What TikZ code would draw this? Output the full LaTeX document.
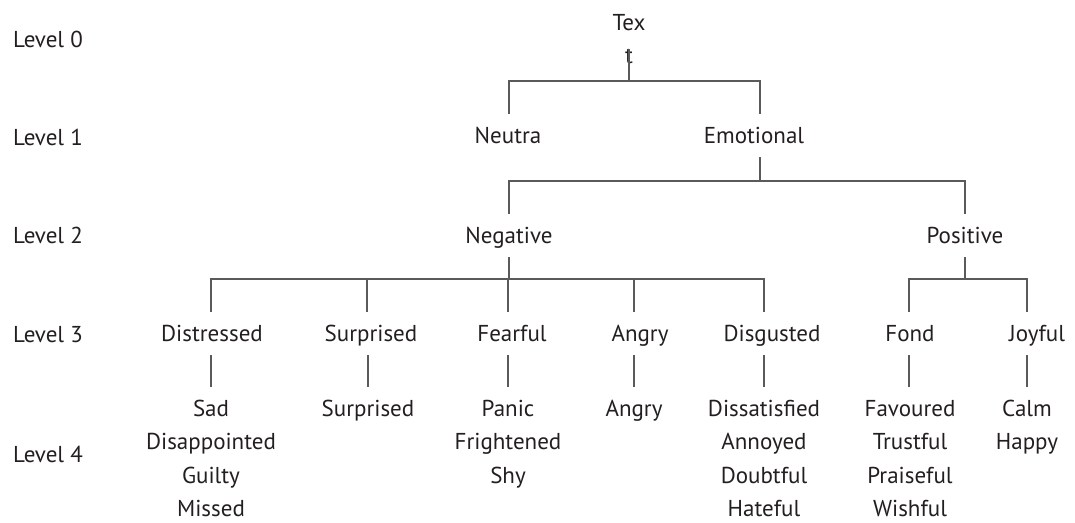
\documentclass[tikz,border=0pt]{standalone}
\usepackage{fontspec}
\setmainfont{PT Sans}
\definecolor{ink}{HTML}{231F20}
\definecolor{wire}{HTML}{5A5A5A}
\begin{document}
\begin{tikzpicture}[x=1pt,y=-1pt,
  every node/.style={font=\fontsize{23}{33.5}\selectfont, text=ink, inner sep=0pt},
  term/.style={anchor=base, text height=29pt, text depth=14pt},
  leaf/.style={anchor=north, align=center},
  lvl/.style={anchor=base west},
  link/.style={draw=wire, line width=1.6pt}]
\useasboundingbox (0,0) rectangle (1075,522);

% level captions
\node[lvl] (l0) at (13,47)  {Level 0};
\node[lvl] (l1) at (13,145) {Level 1};
\node[lvl] (l2) at (13,243) {Level 2};
\node[lvl] (l3) at (13,342) {Level 3};
\node[lvl] (l4) at (13,462) {Level 4};

% root
\node[leaf] (tex) at (629,1) {\rule{0pt}{29pt}Tex\\t};

% level 1
\node[term] (neu) at (508,143) {Neutra};
\node[term] (emo) at (754,143) {Emotional};

% level 2
\node[term] (neg) at (509,243) {Negative};
\node[term] (pos) at (965,243) {Positive};

% level 3
\node[term] (dis) at (212,341) {Distressed};
\node[term] (sur) at (371,341) {Surprised};
\node[term] (fea) at (512,341) {Fearful};
\node[term] (ang) at (640,341) {Angry};
\node[term] (dsg) at (772,341) {Disgusted};
\node[term] (fon) at (910,341) {Fond};
\node[term] (joy) at (1037,341) {Joyful};

% level 4
\node[leaf] (sad) at (211,387) {\rule{0pt}{29pt}Sad\\Disappointed\\Guilty\\Missed};
\node[leaf] (sup) at (368,387) {\rule{0pt}{29pt}Surprised};
\node[leaf] (pan) at (508,387) {\rule{0pt}{29pt}Panic\\Frightened\\Shy};
\node[leaf] (agr) at (634,387) {\rule{0pt}{29pt}Angry};
\node[leaf] (dst) at (764,387) {\rule{0pt}{29pt}Dissatisfied\\Annoyed\\Doubtful\\Hateful};
\node[leaf] (fav) at (910,387) {\rule{0pt}{29pt}Favoured\\Trustful\\Praiseful\\Wishful};
\node[leaf] (clm) at (1027,387) {\rule{0pt}{29pt}Calm\\Happy};

% branching points
\coordinate (f0) at (629,81);
\coordinate (f1) at (760,181);
\coordinate (f2) at (508,279);
\coordinate (f3) at (965,279);

% root -> level 1
\draw[link] ([yshift=15pt]tex.south) -- (f0);
\draw[link] ([xshift=1pt]neu.north) |- (f0) -| ([xshift=6pt]emo.north);

% level 1 -> level 2
\draw[link] ([xshift=6pt]emo.south) -- (f1);
\draw[link] (neg.north) |- (f1) -| (pos.north);

% level 2 -> level 3
\draw[link] (neg.south) -- (neg.south |- f2);
\draw[link] ([xshift=-1pt]dis.north) |- (f2) -| ([xshift=-8pt]dsg.north);
\draw[link] ([xshift=-4pt]sur.north) -- ([xshift=-4pt]sur.north |- f2);
\draw[link] ([xshift=-4pt]fea.north) -- ([xshift=-4pt]fea.north |- f2);
\draw[link] ([xshift=-6pt]ang.north) -- ([xshift=-6pt]ang.north |- f2);
\draw[link] (pos.south) -- (f3);
\draw[link] ([xshift=-1pt]fon.north) |- (f3) -| ([xshift=-10pt]joy.north);

% level 3 -> level 4
\draw[link] (sad.north) -- (sad.north |- dis.south);
\draw[link] (sup.north) -- (sup.north |- sur.south);
\draw[link] (pan.north) -- (pan.north |- fea.south);
\draw[link] (agr.north) -- (agr.north |- ang.south);
\draw[link] (dst.north) -- (dst.north |- dsg.south);
\draw[link] ([xshift=-1pt]fav.north) -- ([xshift=-1pt]fav.north |- fon.south);
\draw[link] (clm.north) -- (clm.north |- joy.south);
\end{tikzpicture}
\end{document}
